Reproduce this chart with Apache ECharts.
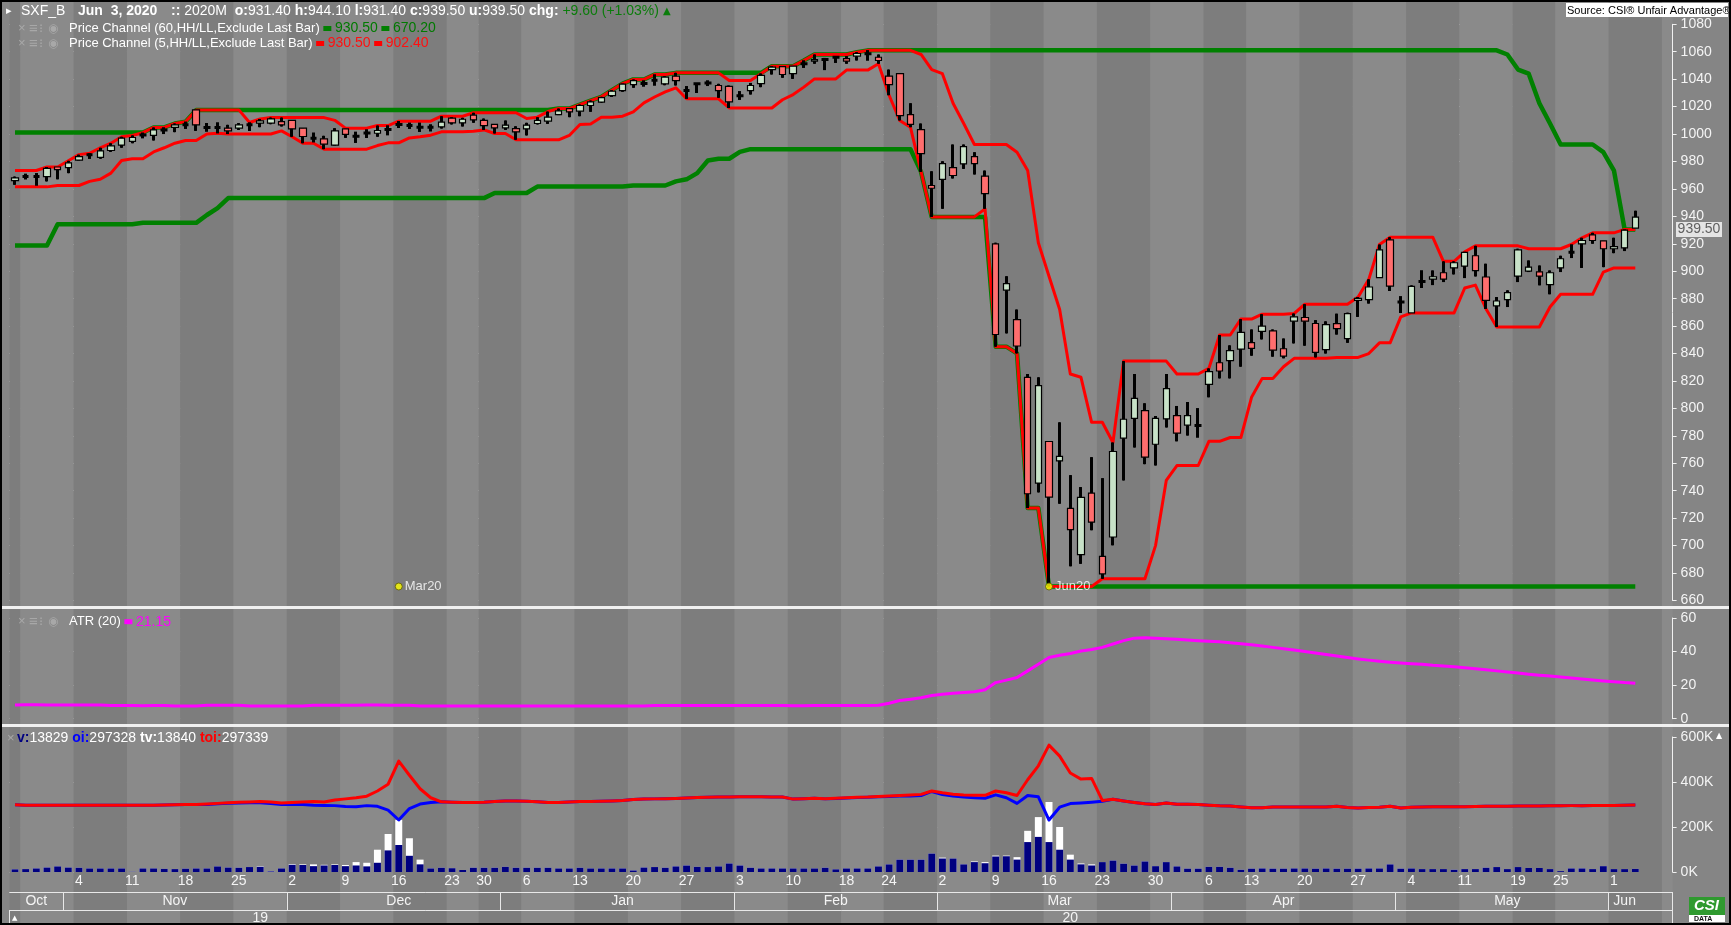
<!DOCTYPE html>
<html>
<head>
<meta charset="utf-8">
<title>SXF_B 2020M</title>
<script src="https://cdn.jsdelivr.net/npm/echarts@6/dist/echarts.min.js"></script>
<style>
  html, body { margin: 0; padding: 0; background: #858585; }
  #chart { width: 1731px; height: 925px; }
</style>
</head>
<body>
<div id="chart"></div>
<script>
// trading days of the June 2020 contract, plus three empty slots at the right edge
var dates = [
'2019-10-25',
'2019-10-28','2019-10-29','2019-10-30','2019-10-31','2019-11-01',
'2019-11-04','2019-11-05','2019-11-06','2019-11-07','2019-11-08',
'2019-11-11','2019-11-12','2019-11-13','2019-11-14','2019-11-15',
'2019-11-18','2019-11-19','2019-11-20','2019-11-21','2019-11-22',
'2019-11-25','2019-11-26','2019-11-27','2019-11-28','2019-11-29',
'2019-12-02','2019-12-03','2019-12-04','2019-12-05','2019-12-06',
'2019-12-09','2019-12-10','2019-12-11','2019-12-12','2019-12-13',
'2019-12-16','2019-12-17','2019-12-18','2019-12-19','2019-12-20',
'2019-12-23','2019-12-24','2019-12-27',
'2019-12-30','2019-12-31','2020-01-02','2020-01-03',
'2020-01-06','2020-01-07','2020-01-08','2020-01-09','2020-01-10',
'2020-01-13','2020-01-14','2020-01-15','2020-01-16','2020-01-17',
'2020-01-20','2020-01-21','2020-01-22','2020-01-23','2020-01-24',
'2020-01-27','2020-01-28','2020-01-29','2020-01-30','2020-01-31',
'2020-02-03','2020-02-04','2020-02-05','2020-02-06','2020-02-07',
'2020-02-10','2020-02-11','2020-02-12','2020-02-13','2020-02-14',
'2020-02-18','2020-02-19','2020-02-20','2020-02-21',
'2020-02-24','2020-02-25','2020-02-26','2020-02-27','2020-02-28',
'2020-03-02','2020-03-03','2020-03-04','2020-03-05','2020-03-06',
'2020-03-09','2020-03-10','2020-03-11','2020-03-12','2020-03-13',
'2020-03-16','2020-03-17','2020-03-18','2020-03-19','2020-03-20',
'2020-03-23','2020-03-24','2020-03-25','2020-03-26','2020-03-27',
'2020-03-30','2020-03-31','2020-04-01','2020-04-02','2020-04-03',
'2020-04-06','2020-04-07','2020-04-08','2020-04-09',
'2020-04-13','2020-04-14','2020-04-15','2020-04-16','2020-04-17',
'2020-04-20','2020-04-21','2020-04-22','2020-04-23','2020-04-24',
'2020-04-27','2020-04-28','2020-04-29','2020-04-30','2020-05-01',
'2020-05-04','2020-05-05','2020-05-06','2020-05-07','2020-05-08',
'2020-05-11','2020-05-12','2020-05-13','2020-05-14','2020-05-15',
'2020-05-19','2020-05-20','2020-05-21','2020-05-22',
'2020-05-25','2020-05-26','2020-05-27','2020-05-28','2020-05-29',
'2020-06-01','2020-06-02','2020-06-03',
'2020-06-04','2020-06-05','2020-06-08'
];

var openPx = [966,969,969,969,976,975.6,981,985,983,988,
992,994.6,999.4,999,1003,1004.8,1006.7,1017.6,1004.8,1004.8,
1004.3,1004.3,1006.7,1008,1008,1009,1010,1004.3,997,996.5,
992,1003.8,998.4,1000.8,1000.6,1003.3,1007,1006.2,1005,1005,
1005.3,1011.6,1008.2,1013.8,1010,1007,1004.5,1004,1003.8,1007.7,
1009.4,1014.2,1018.6,1016.7,1020.8,1023.2,1028,1031.7,1036,1036.8,
1039.3,1036.6,1042.2,1031.7,1036.6,1037.3,1035.4,1034.7,1028,1031.7,
1036.8,1047,1049.2,1044.1,1051.2,1053.2,1054.3,1056,1055,1056.8,
1058.5,1056,1042.2,1044,1014.2,1003.3,962.5,966.9,975.6,978.3,
983.6,969.3,920,886.2,864.8,822.7,745.6,775.9,761.8,727.2,
693.5,738.3,692.2,706.3,778.3,792.8,798.4,773.9,792.4,794.8,
787.8,787.5,817.6,833.3,834.8,843.3,847.9,856.1,856.6,843.5,
863.6,866.3,861.9,842.9,861.8,850.9,878.8,879.3,895.3,922.9,
877.6,869.6,892.6,894.3,898.9,902.5,903.8,911.3,895.8,874.7,
879.3,896.5,900.1,899.6,890.2,902.5,913.9,920,926.5,922.2,
916.4,917.1,931.4];

var highPx = [969,971,971.5,976,976,980.5,985,986,990,993.3,
998,999,1001,1004.8,1004.8,1007.7,1009,1017.6,1008,1008.4,
1006.7,1008,1008.4,1011,1012,1012,1010,1004.3,1001,998.7,
1004.3,1003.8,1001.6,1003.3,1006.2,1006.2,1009.4,1008.2,1008.2,1007,
1013,1012.3,1011.8,1015.5,1011.3,1007,1009.9,1005.7,1008.2,1012.3,
1016.4,1018.6,1018.6,1021.5,1024.4,1027.1,1032,1036.8,1039.8,1039,
1043.4,1042.2,1044.6,1034.9,1036.6,1039,1036.6,1035.4,1031.2,1037.3,
1044.2,1049.5,1049.2,1049.5,1053.6,1058,1055.5,1056.8,1056.8,1059.7,
1061,1058,1047,1044,1022.5,1007.7,972.9,980.2,992.4,992.4,
986.8,973.4,920.8,896.4,872.1,825.1,822.7,775.9,789.9,751.4,
742.7,764.5,749.2,775.2,834.5,825.1,803.8,794.5,825.1,801.8,
804.7,800.1,829.2,853.5,846,865.1,857.6,868.7,857.6,851,
869.2,876,864.4,863.5,869.1,869.8,881.2,894.1,919.5,924.8,
881.7,889.7,900.6,900.6,907.2,907.2,914.2,918.5,905.5,881.2,
886.1,916.4,907.9,904.2,900.6,911.3,919.5,924.4,928,922.2,
924.4,930.5,944.1];

var lowPx = [963,967,962.5,965.5,967,971.5,980.7,982,982,987,
990,993.3,997,995.3,1000,1001.4,1003.8,1002.3,1001.8,1000.6,
1000,1003,1002.3,1005,1007.2,1005.5,998,993.3,994,989,
991.6,997.2,993.6,997.2,998,999.2,1004.5,1003.8,1001.6,1002,
1004,1007,1005.5,1008.2,1003,1000.4,1003,995.8,999,1007,
1007.4,1013.8,1012.3,1013,1016.2,1022.7,1027,1030.8,1033.7,1034.7,
1035.4,1035.6,1035.4,1025.7,1030,1035,1026.4,1019,1025,1028.8,
1034.2,1043.4,1041,1040.2,1048.3,1051.2,1046.6,1051.9,1051.2,1053.6,
1053.6,1051.2,1028.3,1009.9,1005,972.4,939.6,945.5,967.6,974.6,
970.5,945.5,845,854.7,840.1,727.4,738.8,670.2,730.5,684.9,
686.7,711.2,675.8,700.2,747.5,771.5,759.4,758.4,786.1,776,
780.2,778.8,808.1,821.9,821.9,830.4,838.4,850.3,837.7,836.5,
847.4,845.7,837.2,840,853.8,847.8,866.7,876.4,895.3,885.6,
869.6,869.6,887.8,889.9,892.1,897.7,895,896.2,872.5,859.4,
873.9,892.1,899.4,889.7,883.2,899.4,909.6,902.4,920,903,
913.2,914.7,931.4];

var closePx = [968,969,969,975,974,979,983.6,985,987.7,991.4,
997,997.5,999.4,1003,1003,1006.7,1006.7,1006.7,1004.8,1004.8,
1002.3,1006.7,1006.7,1009.6,1011,1006.7,1003.8,998.2,997,992.6,
1002.3,999.7,998.4,1000.8,1002.6,1003.3,1007,1006.2,1005,1005,
1008.7,1008.2,1010.8,1010.4,1006.2,1004.5,1006.5,1001.6,1006.5,1010,
1012.3,1016.9,1016.2,1020.8,1023.5,1026.6,1031.2,1036.4,1039,1036.8,
1039.3,1041.5,1039,1031.7,1036.6,1037.3,1031.7,1023.5,1028,1035.4,
1042.7,1048.8,1043.4,1049.5,1051.2,1054.3,1054.3,1056,1053.1,1058.7,
1058.5,1053.6,1036.1,1013.5,1007,985.8,960.5,978.5,969.8,990.9,
978.5,956.6,853.9,891,845.5,737.8,816.6,735.4,765,711.6,
735.2,717.2,679.4,768.6,792.1,807.4,764.5,792.8,814.4,782,
794.8,787.5,826.8,827.3,842.1,855.4,843.8,860,842.5,838.2,
866.8,863.6,840.8,861.1,858.2,869.1,880.2,888.5,915.6,889.2,
877.6,889,892.6,896,894.3,906.2,913.7,900.4,878.8,878.3,
884.4,915.6,903,896.5,898.9,909.1,913.9,922.4,922.4,916.4,
918,929.9,939.5];

// Price Channel (60, HH/LL)
var ch60Hi = [1001.1,1001.1,1001.1,1001.1,1001.1,1001.1,1001.1,1001.1,1001.1,1001.1,
1001.1,1001.1,1001.1,1004.8,1004.8,1007.7,1009,1017.6,1017.6,1017.6,
1017.6,1017.6,1017.6,1017.6,1017.6,1017.6,1017.6,1017.6,1017.6,1017.6,
1017.6,1017.6,1017.6,1017.6,1017.6,1017.6,1017.6,1017.6,1017.6,1017.6,
1017.6,1017.6,1017.6,1017.6,1017.6,1017.6,1017.6,1017.6,1017.6,1017.6,
1017.6,1018.6,1018.6,1021.5,1024.4,1027.1,1032,1036.8,1039.8,1039.8,
1043.4,1043.4,1044.6,1044.6,1044.6,1044.6,1044.6,1044.6,1044.6,1044.6,
1044.6,1049.5,1049.5,1049.5,1053.6,1058,1058,1058,1058,1059.7,
1061,1061,1061,1061,1061,1061,1061,1061,1061,1061,
1061,1061,1061,1061,1061,1061,1061,1061,1061,1061,
1061,1061,1061,1061,1061,1061,1061,1061,1061,1061,
1061,1061,1061,1061,1061,1061,1061,1061,1061,1061,
1061,1061,1061,1061,1061,1061,1061,1061,1061,1061,
1061,1061,1061,1061,1061,1061,1061,1061,1061,1061,
1058,1047,1044,1022.5,1007.7,992.4,992.4,992.4,992.4,986.8,
973.4,930.5,930.5];

var ch60Lo = [918.7,918.7,918.7,918.7,934.3,934.3,934.3,934.3,934.3,934.3,
934.3,934.3,935.3,935.3,935.3,935.3,935.3,935.3,941,946,
953.3,953.3,953.3,953.3,953.3,953.3,953.3,953.3,953.3,953.3,
953.3,953.3,953.3,953.3,953.3,953.3,953.3,953.3,953.3,953.3,
953.3,953.3,953.3,953.3,953.3,957,957,957,957,961.7,
961.7,961.7,961.7,961.7,961.7,961.7,961.7,961.7,962.5,962.5,
962.5,962.5,965.5,967,971.5,980.7,982,982,987,989,
989,989,989,989,989,989,989,989,989,989,
989,989,989,989,989,972.4,939.6,939.6,939.6,939.6,
939.6,939.6,845,845,840.1,727.4,727.4,670.2,670.2,670.2,
670.2,670.2,670.2,670.2,670.2,670.2,670.2,670.2,670.2,670.2,
670.2,670.2,670.2,670.2,670.2,670.2,670.2,670.2,670.2,670.2,
670.2,670.2,670.2,670.2,670.2,670.2,670.2,670.2,670.2,670.2,
670.2,670.2,670.2,670.2,670.2,670.2,670.2,670.2,670.2,670.2,
670.2,670.2,670.2,670.2,670.2,670.2,670.2,670.2,670.2,670.2,
670.2,670.2,670.2];

// Price Channel (5, HH/LL)
var ch5Hi = [973.4,973.4,973.4,976,976,980.5,985,986,990,993.3,
998,999,1001,1004.8,1004.8,1007.7,1009,1017.6,1017.6,1017.6,
1017.6,1017.6,1008.4,1011,1012,1012,1012,1012,1012,1012,
1010,1004.3,1004.3,1004.3,1006.2,1006.2,1009.4,1009.4,1009.4,1009.4,
1013,1013,1013,1015.5,1015.5,1015.5,1015.5,1015.5,1011.3,1012.3,
1016.4,1018.6,1018.6,1021.5,1024.4,1027.1,1032,1036.8,1039.8,1039.8,
1043.4,1043.4,1044.6,1044.6,1044.6,1044.6,1044.6,1039,1039,1039,
1044.2,1049.5,1049.5,1049.5,1053.6,1058,1058,1058,1058,1059.7,
1061,1061,1061,1061,1061,1058,1047,1044,1022.5,1007.7,
992.4,992.4,992.4,992.4,986.8,973.4,920.8,896.4,872.1,825.1,
822.7,789.9,789.9,775.2,834.5,834.5,834.5,834.5,834.5,825.1,
825.1,825.1,829.2,853.5,853.5,865.1,865.1,868.7,868.7,868.7,
869.2,876,876,876,876,876,881.2,894.1,919.5,924.8,
924.8,924.8,924.8,924.8,907.2,907.2,914.2,918.5,918.5,918.5,
918.5,918.5,916.4,916.4,916.4,916.4,919.5,924.4,928,928,
928,930.5,930.5];

var ch5Lo = [961.5,961.5,961.5,961.5,962.5,962.5,962.5,965.5,967,971.5,
980.7,982,982,987,990,993.3,995.3,995.3,1000,1000.6,
1000,1000,1000,1000,1000,1002.3,998,993.3,993.3,989,
989,989,989,989,991.6,993.6,993.6,997.2,998,999.2,
1001.6,1001.6,1001.6,1002,1003,1000.4,1000.4,995.8,995.8,995.8,
995.8,995.8,999,1007,1007.4,1012.3,1012.3,1013,1016.2,1022.7,
1027,1030.8,1033.7,1025.7,1025.7,1025.7,1025.7,1019,1019,1019,
1019,1019,1025,1028.8,1034.2,1040.2,1040.2,1040.2,1046.6,1046.6,
1046.6,1051.2,1028.3,1009.9,1005,972.4,939.6,939.6,939.6,939.6,
939.6,945.5,845,845,840.1,727.4,727.4,670.2,670.2,670.2,
670.2,670.2,675.8,675.8,675.8,675.8,675.8,700.2,747.5,758.4,
758.4,758.4,776,776,778.8,778.8,808.1,821.9,821.9,830.4,
836.5,836.5,836.5,836.5,837.2,837.2,837.2,840,847.8,847.8,
866.7,869.6,869.6,869.6,869.6,869.6,887.8,889.9,872.5,859.4,
859.4,859.4,859.4,859.4,873.9,883.2,883.2,883.2,883.2,899.4,
902.4,902.4,902.4];

// ATR (20)
var atr20 = [8.2,8.3,8.3,8.2,8.2,8.2,8.1,8.2,8.2,7.8,
7.8,7.8,7.7,7.8,7.8,7.5,7.5,7.5,8.0,8.0,
8.0,8.0,7.6,7.6,7.6,7.6,7.6,7.6,8.0,8.0,
8.0,8.0,8.0,8.1,8.1,8.0,8.0,8.0,7.6,7.6,
7.6,7.6,7.6,7.6,7.5,7.5,7.5,7.6,7.6,7.6,
7.6,7.6,7.6,7.6,7.5,7.5,7.6,7.6,7.6,7.6,
7.8,7.8,7.8,7.8,7.8,7.9,7.9,7.8,7.8,7.8,
7.8,7.8,7.8,7.7,7.7,7.8,7.8,7.8,7.8,7.8,
7.9,8.0,9.2,10.8,11.6,12.5,13.8,14.5,15.2,15.6,
16.0,17.2,21.5,23.0,24.5,28.5,32.5,36.5,37.8,38.8,
40.3,41.2,42.5,44.5,46.5,48.0,48.2,48.0,47.7,47.3,
46.9,46.5,46.2,45.8,45.2,44.6,44.0,43.3,42.5,41.7,
40.9,40.0,39.2,38.3,37.3,36.4,35.6,34.9,34.3,33.7,
33.2,32.8,32.4,31.8,31.4,31.0,30.4,29.8,29.2,28.5,
27.8,27.2,26.5,25.9,25.4,24.9,24.3,23.7,23.1,22.5,
22.0,21.5,21.15];

// volume and open interest, thousands of contracts
var volume = [12,13,16,20,25,20,19,16,16,16,
16,1,16,16,14,13,15,16,16,25,
20,19,22,23,3,16,32,31,26,29,
31,26,29,25,41,96,120,72,34,16,
19,17,9,19,19,19,23,19,19,19,
19,16,16,19,16,16,16,16,7,20,
22,19,25,29,23,22,25,38,29,19,
16,16,16,16,16,16,19,12,16,16,
16,25,34,55,55,55,82,60,60,34,
44,39,69,70,55,133,156,133,99,55,
34,29,44,51,37,29,47,26,44,25,
15,15,23,23,19,10,15,16,15,15,
16,16,15,16,15,15,15,16,16,34,
15,16,13,13,13,10,13,13,19,22,
13,22,18,18,13,4,16,16,13,26,
13,13,13.829];

var totalVolume = [12,13,16,20,25,20,19,16,16,16,
16,1,16,16,14,13,15,16,16,25,
20,19,22,25,4,16,35,34,34,32,
34,31,44,41,99,169,232,150,55,16,
19,17,9,19,19,19,23,19,19,19,
19,16,16,19,16,16,16,16,7,20,
22,19,25,29,23,22,25,38,29,19,
16,16,16,16,16,16,19,12,16,16,
16,25,34,55,55,55,82,64,60,34,
47,44,73,73,66,183,244,311,200,77,
38,34,44,51,37,29,47,26,44,25,
15,15,23,23,19,10,15,16,15,15,
16,16,15,16,15,15,15,16,16,34,
15,16,13,13,13,10,13,13,19,22,
13,22,18,18,13,4,16,16,13,26,
13,13,13.84];

var openInterest = [299,297,297,297,297,297,297,297,297,297,
297,297,297,297,298,299,300,300,300,303,
306,307,308,308,304,300,300,300,297,296,
295,291,290,295,292,275,231,282,302,309,
312,310,309,309,310,313,316,316,314,312,
309,309,311,313,313,314,316,318,322,324,
325,326,327,329,331,332,333,333,334,334,
334,333,333,324,326,328,325,327,329,331,
332,334,336,338,338,340,358,344,338,333,
330,328,343,330,305,340,334,231,288,304,
307,310,314,323,316,309,303,300,307,301,
301,300,297,294,293,289,286,286,289,289,
289,289,289,289,292,287,284,287,288,292,
284,288,289,290,290,290,290,291,292,292,
292,293,293,293,294,294,295,295,296,296,
296,297,297.328];

var totalOI = [299,297,297,297,297,297,297,297,297,297,
297,297,297,297,298,299,300,300,302,305,
308,310,311,313,311,307,309,311,313,311,
320,325,330,337,360,390,493,430,370,330,
312,310,309,309,310,313,316,316,314,312,
309,309,311,313,313,314,316,318,322,324,
325,326,327,329,331,332,333,333,334,334,
334,333,333,324,326,328,326,328,330,332,
333,336,338,340,342,345,360,352,346,342,
341,341,360,352,340,410,472,564,515,440,
413,416,318,323,316,309,303,300,307,301,
301,300,297,294,293,289,286,286,289,289,
289,289,289,289,292,287,284,287,288,292,
284,288,289,290,290,290,290,291,292,292,
292,293,293,293,294,294,295,295,296,296,
296,297,297.339];

// contract roll markers
var rollDates = ['2019-12-16', '2020-03-16'];
var rollLabels = ['Mar20', 'Jun20'];

var monthNames = ['Jan','Feb','Mar','Apr','May','Jun','Jul','Aug','Sep','Oct','Nov','Dec'];

// ---------------------------------------------------------------
var FONT = '"Liberation Sans", Arial, sans-serif';
var nBars = openPx.length;
var last = nBars - 1;
var upFill = '#c8e2c8', downFill = '#ff6e6e';
var txtColor = '#f4f4f4';
var dotted = { color: '#d2d2d2', type: [1.5, 7.5], width: 1 };

function dayOf(s) { return new Date(s + 'T00:00:00Z'); }
var weekStart = dates.map(function (d, i) {
  if (i === 0) return true;
  var a = dayOf(d), b = dayOf(dates[i - 1]);
  return a.getUTCDay() <= b.getUTCDay() || (a - b) >= 7 * 864e5;
});
var monthStart = dates.map(function (d, i) {
  return i > 0 && d.slice(0, 7) !== dates[i - 1].slice(0, 7);
});
// centre bar of each month / year (real trading days only)
function centres(keyLen) {
  var out = {}, first = {}, lastIdx = {};
  for (var i = 0; i < nBars; i++) {
    var k = dates[i].slice(0, keyLen);
    if (!(k in first)) first[k] = i;
    lastIdx[k] = i;
  }
  Object.keys(first).forEach(function (k) {
    out[Math.floor((first[k] + lastIdx[k] + 1) / 2)] = true;
  });
  return out;
}
var monthMid = centres(7);
var yearMid = centres(4);
var yearStart = dates.map(function (d, i) {
  return i > 0 && d.slice(0, 4) !== dates[i - 1].slice(0, 4);
});

var candleData = openPx.map(function (o, i) {
  var v = [o, closePx[i], lowPx[i], highPx[i]];
  if (o === closePx[i]) {
    return { value: v, itemStyle: { color: '#000', color0: '#000', borderColor: '#000', borderColor0: '#000', borderWidth: 3 } };
  }
  return v;
});
var wickData = openPx.map(function (o, i) { return [o, closePx[i], lowPx[i], highPx[i]]; });

var L = 9.67, R = 58.4;

function hiddenX(g) {
  return {
    type: 'category', gridIndex: g, data: dates, boundaryGap: true,
    axisLine: { show: false }, axisTick: { show: false },
    axisLabel: { show: false }, splitLine: { show: false }
  };
}
function rightY(g, min, max, step, suffix) {
  return {
    type: 'value', gridIndex: g, position: 'right', min: min, max: max, interval: step,
    axisLine: { show: true, lineStyle: { color: '#f0f0f0', width: 1 } },
    axisTick: { show: true, length: 4, lineStyle: { color: '#f0f0f0' } },
    axisLabel: { color: txtColor, fontSize: 14, margin: 8, fontFamily: FONT,
                 formatter: function (v) { return String(v) + (suffix || ''); } },
    splitLine: { show: true, lineStyle: dotted }
  };
}

var bgX = hiddenX(0);
bgX.splitArea = { show: true, interval: function (i) { return weekStart[i]; },
                  areaStyle: { color: ['#7d7d7d', '#8a8a8a'] } };

var dayX = hiddenX(3);
dayX.axisLabel = {
  show: true, color: txtColor, fontSize: 14, margin: 2, fontFamily: FONT,
  interval: function (i) { return weekStart[i] && i >= 5 && i < nBars; },
  formatter: function (v) { return String(parseInt(v.slice(8), 10)); }
};

var monthX = {
  type: 'category', gridIndex: 3, data: dates, boundaryGap: true, position: 'bottom', offset: 20.7,
  axisLine: { show: true, lineStyle: { color: '#e8e8e8', width: 1 } },
  axisTick: { show: true, length: 17.3, interval: function (i) { return monthStart[i]; },
              lineStyle: { color: '#e8e8e8', width: 1 } },
  axisLabel: { show: true, color: txtColor, fontSize: 14, margin: 1, fontFamily: FONT,
               interval: function (i) { return !!monthMid[i]; },
               formatter: function (v) { return monthNames[parseInt(v.slice(5, 7), 10) - 1]; } },
  splitLine: { show: false }
};
var yearX = {
  type: 'category', gridIndex: 3, data: dates, boundaryGap: true, position: 'bottom', offset: 38,
  axisLine: { show: true, lineStyle: { color: '#e8e8e8', width: 1 } },
  axisTick: { show: true, length: 13, interval: function (i) { return yearStart[i]; },
              lineStyle: { color: '#e8e8e8', width: 1 } },
  axisLabel: { show: true, color: txtColor, fontSize: 14, margin: 1, fontFamily: FONT,
               interval: function (i) { return !!yearMid[i]; },
               formatter: function (v) { return v.slice(2, 4); } },
  splitLine: { show: false }
};

function line(name, data, xi, color, width, z) {
  return {
    name: name, type: 'line', xAxisIndex: xi, yAxisIndex: xi, data: data,
    symbol: 'none', silent: true, z: z || 2,
    lineStyle: { color: color, width: width, join: 'round' }
  };
}

// ---- header / legend texts ----
var gIcon = '#a8a8a8';
function t(id, x, y, text, extra) {
  var style = { text: text, fill: '#ffffff', font: '14px ' + FONT, verticalAlign: 'middle' };
  for (var k in extra) style[k] = extra[k];
  return { type: 'text', id: id, x: x, y: y, z: 100, silent: true, style: style };
}
function icons(prefix, y) {
  return [
    t(prefix + 'x', 18, y, '\u00d7', { fill: gIcon, font: '13px ' + FONT }),
    t(prefix + 'm', 29, y, '\u2261', { fill: gIcon, font: 'bold 15px ' + FONT }),
    t(prefix + 'd', 39, y, '\u205d', { fill: gIcon, font: '13px "DejaVu Sans", sans-serif' }),
    t(prefix + 'e', 48, y, '\u25c9', { fill: gIcon, font: '12px "DejaVu Sans", sans-serif' })
  ];
}
function sq(c) { return { width: 8, height: 5, backgroundColor: c }; }

var chg = closePx[last] - closePx[last - 1];
var pct = chg / closePx[last - 1] * 100;
var sign = chg >= 0 ? '+' : '-';
var f2 = function (v) { return v.toFixed(2); };

var graphics = [
  t('h0', 6, 11.5, '\u25b8', { font: '11px "DejaVu Sans", sans-serif' }),
  t('h1', 21, 11.5, 'SXF_B'),
  t('h2', 78, 11.5, 'Jun  3, 2020', { font: 'bold 14px ' + FONT }),
  t('h3', 171, 11.5,
    '{b|::} 2020M  {b|o:}' + f2(openPx[last]) + ' {b|h:}' + f2(highPx[last]) +
    ' {b|l:}' + f2(lowPx[last]) + ' {b|c:}' + f2(closePx[last]) +
    ' {b|u:}' + f2(closePx[last]) + ' {b|chg:} {g|' + sign + f2(Math.abs(chg)) +
    ' (' + sign + f2(Math.abs(pct)) + '%)}',
    { rich: { b: { fontWeight: 'bold', fill: '#fff', fontSize: 14, fontFamily: FONT },
              g: { fill: '#0b7d0b', fontSize: 14, fontFamily: FONT } } }),
  t('h4', 663, 11, '\u25b2', { fill: '#0b7d0b', font: '10px "DejaVu Sans", sans-serif' }),

  t('p60', 69, 28.5,
    'Price Channel (60,HH/LL,Exclude Last Bar) {s| } {v|' + f2(ch60Hi[last]) + '} {s| } {v|' + f2(ch60Lo[last]) + '}',
    { font: '13px ' + FONT, rich: { s: sq('#008000'), v: { fill: '#007a00', fontSize: 14, fontFamily: FONT } } }),
  t('p5', 69, 43.5,
    'Price Channel (5,HH/LL,Exclude Last Bar) {s| } {v|' + f2(ch5Hi[last]) + '} {s| } {v|' + f2(ch5Lo[last]) + '}',
    { font: '13px ' + FONT, rich: { s: sq('#ff0000'), v: { fill: '#ff1010', fontSize: 14, fontFamily: FONT } } }),

  t('atr', 69, 621.7, 'ATR (20) {s| } {v|' + f2(atr20[last]) + '}',
    { font: '13px ' + FONT, rich: { s: sq('#ff00ff'), v: { fill: '#ff00ff', fontSize: 14, fontFamily: FONT } } }),

  t('volx', 7, 738.3, '\u00d7', { fill: gIcon, font: '13px ' + FONT }),
  t('vol', 17, 738.3,
    '{v|v:}' + Math.round(volume[last] * 1000) + ' {oi|oi:}' + Math.round(openInterest[last] * 1000) +
    ' {tv|tv:}' + Math.round(totalVolume[last] * 1000) + ' {toi|toi:}' + Math.round(totalOI[last] * 1000),
    { rich: { v: { fill: '#000080', fontWeight: 'bold', fontSize: 14, fontFamily: FONT },
              oi: { fill: '#0000ff', fontWeight: 'bold', fontSize: 14, fontFamily: FONT },
              tv: { fill: '#ffffff', fontWeight: 'bold', fontSize: 14, fontFamily: FONT },
              toi: { fill: '#ff0000', fontWeight: 'bold', fontSize: 14, fontFamily: FONT } } }),

  // source tag
  { type: 'rect', id: 'srcBox', z: 100, silent: true, shape: { x: 1566, y: 3, width: 162, height: 14 },
    style: { fill: '#ffffff' } },
  t('src', 1567, 10.5, 'Source: CSI\u00ae Unfair Advantage\u00ae', { fill: '#000', font: '11px ' + FONT }),

  // panel separators
  { type: 'rect', id: 'sep1', z: 100, silent: true, shape: { x: 0, y: 606, width: 1731, height: 3 }, style: { fill: '#f0f0f0' } },
  { type: 'rect', id: 'sep2', z: 100, silent: true, shape: { x: 0, y: 724, width: 1731, height: 3 }, style: { fill: '#f0f0f0' } },

  t('triL', 12, 918, '\u25b2', { font: '7px "DejaVu Sans", sans-serif' }),
  t('triR', 1716, 736, '\u25b2', { font: '8px "DejaVu Sans", sans-serif' }),

  // CSI logo
  { type: 'rect', id: 'logo1', z: 100, silent: true, shape: { x: 1689, y: 897, width: 36, height: 18 }, style: { fill: '#2f9a2f' } },
  t('logo2', 1694, 906, 'CSI', { font: 'italic bold 15px ' + FONT }),
  { type: 'rect', id: 'logo3', z: 100, silent: true, shape: { x: 1689, y: 915, width: 36, height: 7 }, style: { fill: '#ffffff' } },
  t('logo4', 1694, 918.7, 'DATA', { fill: '#111', font: 'bold 7px ' + FONT }),

  // outer frame
  { type: 'rect', id: 'frame', z: 101, silent: true, shape: { x: 1, y: 1, width: 1729, height: 923 },
    style: { fill: 'none', stroke: '#000', lineWidth: 2 } }
].concat(icons('i60', 28.5), icons('i5', 43.5), icons('iatr', 621.7));

var option = {
  animation: false,
  backgroundColor: '#858585',
  textStyle: { fontFamily: FONT },
  grid: [
    { left: L, right: R, top: 2, bottom: 2, outerBoundsMode: 'none' },
    { left: L, right: R, top: 24.3, height: 576.2, outerBoundsMode: 'none' },
    { left: L, right: R, top: 618, height: 100.7, outerBoundsMode: 'none' },
    { left: L, right: R, top: 737, height: 135, outerBoundsMode: 'none' }
  ],
  xAxis: [bgX, hiddenX(1), hiddenX(2), dayX, monthX, yearX],
  yAxis: [
    { type: 'value', gridIndex: 0, show: false, min: 0, max: 1 },
    rightY(1, 660, 1080, 20),
    rightY(2, 0, 60, 20),
    rightY(3, 0, 600, 200, 'K')
  ],
  series: [
    line('PC60 HH', ch60Hi, 1, '#008000', 4.5),
    line('PC60 LL', ch60Lo, 1, '#008000', 4.5),
    line('PC5 HH', ch5Hi, 1, '#ff0000', 3),
    line('PC5 LL', ch5Lo, 1, '#ff0000', 3),
    {
      name: 'wicks', type: 'candlestick', xAxisIndex: 1, yAxisIndex: 1, data: wickData,
      barWidth: 1, silent: true, z: 3,
      itemStyle: { color: '#000', color0: '#000', borderColor: '#000', borderColor0: '#000', borderWidth: 3 }
    },
    {
      name: 'SXF_B', type: 'candlestick', xAxisIndex: 1, yAxisIndex: 1, data: candleData,
      barWidth: 7, silent: true, z: 4,
      itemStyle: { color: upFill, color0: downFill, borderColor: '#000', borderColor0: '#000', borderWidth: 1.2 }
    },
    {
      name: 'roll', type: 'scatter', xAxisIndex: 1, yAxisIndex: 1, z: 5, silent: true,
      data: rollDates.map(function (d, i) { return { value: [d, Math.min.apply(null, lowPx)], name: rollLabels[i] }; }),
      symbolSize: 7,
      itemStyle: { color: '#ffff00', borderColor: '#5a5a00', borderWidth: 1 },
      label: { show: true, position: 'right', distance: 2, formatter: '{b}', color: '#ffffff', fontSize: 13, fontFamily: FONT }
    },
    line('ATR', atr20, 2, '#ff00ff', 3),
    {
      name: 'tv', type: 'bar', xAxisIndex: 3, yAxisIndex: 3, data: totalVolume,
      barWidth: 7, barGap: '-100%', silent: true, itemStyle: { color: '#ffffff' }
    },
    {
      name: 'v', type: 'bar', xAxisIndex: 3, yAxisIndex: 3, data: volume,
      barWidth: 7, barGap: '-100%', silent: true, itemStyle: { color: '#000080' }
    },
    line('oi', openInterest, 3, '#0000ff', 3, 3),
    line('toi', totalOI, 3, '#ff0000', 3, 4)
  ],
  graphic: graphics
};

var chart = echarts.init(document.getElementById('chart'));
chart.setOption(option);

// last-price tag beside the price scale
var yLast = chart.convertToPixel({ yAxisIndex: 1 }, closePx[last]);
chart.setOption({
  graphic: [
    { type: 'rect', id: 'lastBox', z: 100, silent: true,
      shape: { x: 1676, y: yLast + 5, width: 46, height: 15 }, style: { fill: '#e4e4e4' } },
    { type: 'text', id: 'lastTxt', z: 101, silent: true, x: 1699, y: yLast + 12.5,
      style: { text: f2(closePx[last]), fill: '#606060', font: '14px ' + FONT, align: 'center', verticalAlign: 'middle' } }
  ]
});
</script>
</body>
</html>
